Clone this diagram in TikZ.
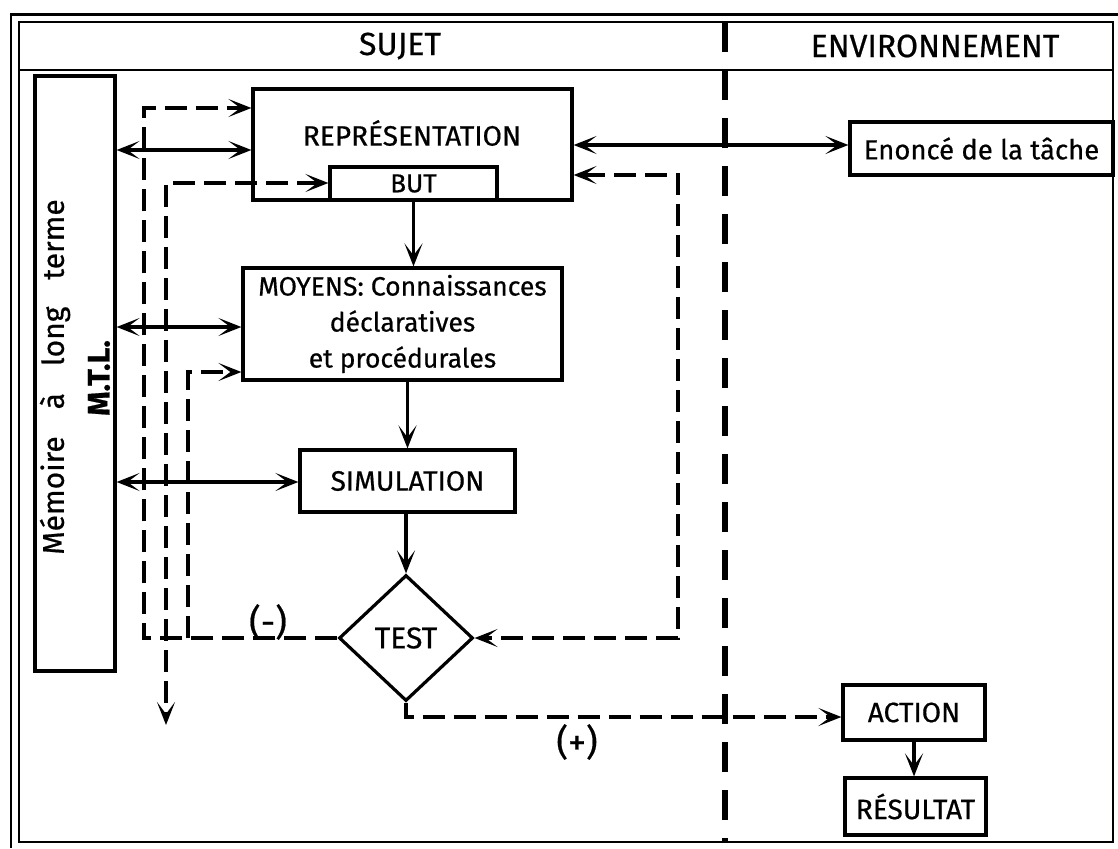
\documentclass[tikz,border=0pt]{standalone}
\usepackage{fontspec}
\setmainfont{Fira Sans}[FakeBold=0.6]
\usetikzlibrary{arrows.meta,shapes.geometric}
\begin{document}
\begin{tikzpicture}[x=1pt,y=-1pt,
  >={Stealth[length=23pt,width=18pt,inset=12pt]},
  every node/.style={font=\fontsize{26}{30}\selectfont},
  caps/.style={font=\fontsize{28}{30}\selectfont},
  box/.style={draw,line width=3.2pt,inner sep=0pt,anchor=center},
  link/.style={line width=3.2pt},
  dsh/.style={line width=3.2pt,dash pattern=on 22pt off 9pt},
  frame/.style={line width=2.8pt},
  divider/.style={line width=6pt,dash pattern=on 30pt off 18pt},
  head/.style={font=\fontsize{32}{34}\selectfont},
  sign/.style={font=\fontsize{36}{36}\selectfont}]
\useasboundingbox (0,0) rectangle (1118,848);

% double outer frame and header band
\draw[frame] (19,22) rectangle (1113,842);
\draw[frame] (11,848) -- (11,14.5) -- (1118,14.5);
\draw[frame] (19,70) -- (1113,70);
\draw[divider] (725,22) -- (725,842);
\node[head] (sujet) at (400,46) {SUJET};
\node[head] (env) at (935,46) {ENVIRONNEMENT};

% long-term memory column
\node[box,minimum width=80pt,minimum height=595pt] (mem) at (75,373.5) {};
\node[rotate=90,font=\fontsize{30}{32}\selectfont] (memtxt) at (55,377)
  {Mémoire\hspace{.9em}à\hspace{.9em}long\hspace{.9em}terme};
\node[rotate=90,font=\bfseries\fontsize{31}{32}\selectfont] (mtl) at (99,378) {M.T.L.};

% processing chain
\node[box,minimum width=319pt,minimum height=111pt] (repr) at (412.5,144.5) {};
\node[caps] (reprtxt) at (412,133) {REPRÉSENTATION};
\node[box,minimum width=167pt,minimum height=33pt] (but) at (413.5,183.5) {BUT};
\node[box,minimum width=319pt,minimum height=112pt,align=center,
      font=\fontsize{26.5}{36}\selectfont] (moy) at (402.5,324)
  {MOYENS: Connaissances\\déclaratives\\et procédurales};
\node[box,caps,minimum width=215pt,minimum height=62pt] (sim) at (407.5,481) {SIMULATION};
\node[box,diamond,minimum width=134pt,minimum height=126pt,font=\fontsize{30}{30}\selectfont]
  (test) at (406,638) {TEST};

% environment side
\node[box,minimum width=263pt,minimum height=53pt,font=\fontsize{27.5}{30}\selectfont]
  (enon) at (981.5,148.5) {Enoncé de la tâche};
\node[box,caps,minimum width=142pt,minimum height=55pt] (act) at (914,712.5) {ACTION};
\node[box,caps,minimum width=141pt,minimum height=57pt] (res) at (915.5,806.5) {RÉSULTAT};

\node[sign] (minus) at (268,622) {(-)};
\node[sign] (plus) at (577,742) {(+)};

% solid links
\draw[link,<->] (mem.east |- 0,150) -- (repr.west |- 0,150);
\draw[link,<->] (mem.east |- 0,327) -- (moy.west |- 0,327);
\draw[link,<->] (mem.east |- 0,482) -- (sim.west |- 0,482);
\draw[link,<->] (repr.east |- 0,145) -- (enon.west |- 0,145);
\draw[link,->] (but.south) -- (but.south |- moy.north);
\draw[link,->] (moy.south -| sim.north) -- (sim.north);
\draw[link,->] (sim.south -| test.north) -- (test.north);
\draw[link,->] (act.south) -- (act.south |- res.north);

% dashed feedback paths
\coordinate (ra) at (678,175);
\coordinate (la) at (144,638);
\coordinate (lb) at (166,725);
\coordinate (lc) at (188,638);
\draw[dsh,<->] (repr.east |- ra) -- (ra) |- (test.east);
\draw[dsh,->] (test.west) -- (la) |- (repr.west |- 0,108);
\draw[dsh,<->] (but.west |- 0,183) -| (lb);
\draw[dsh,->] (lc) |- (moy.west |- 0,372);
\draw[dsh,->] (test.south) |- (act.west |- 0,717);
\end{tikzpicture}
\end{document}
